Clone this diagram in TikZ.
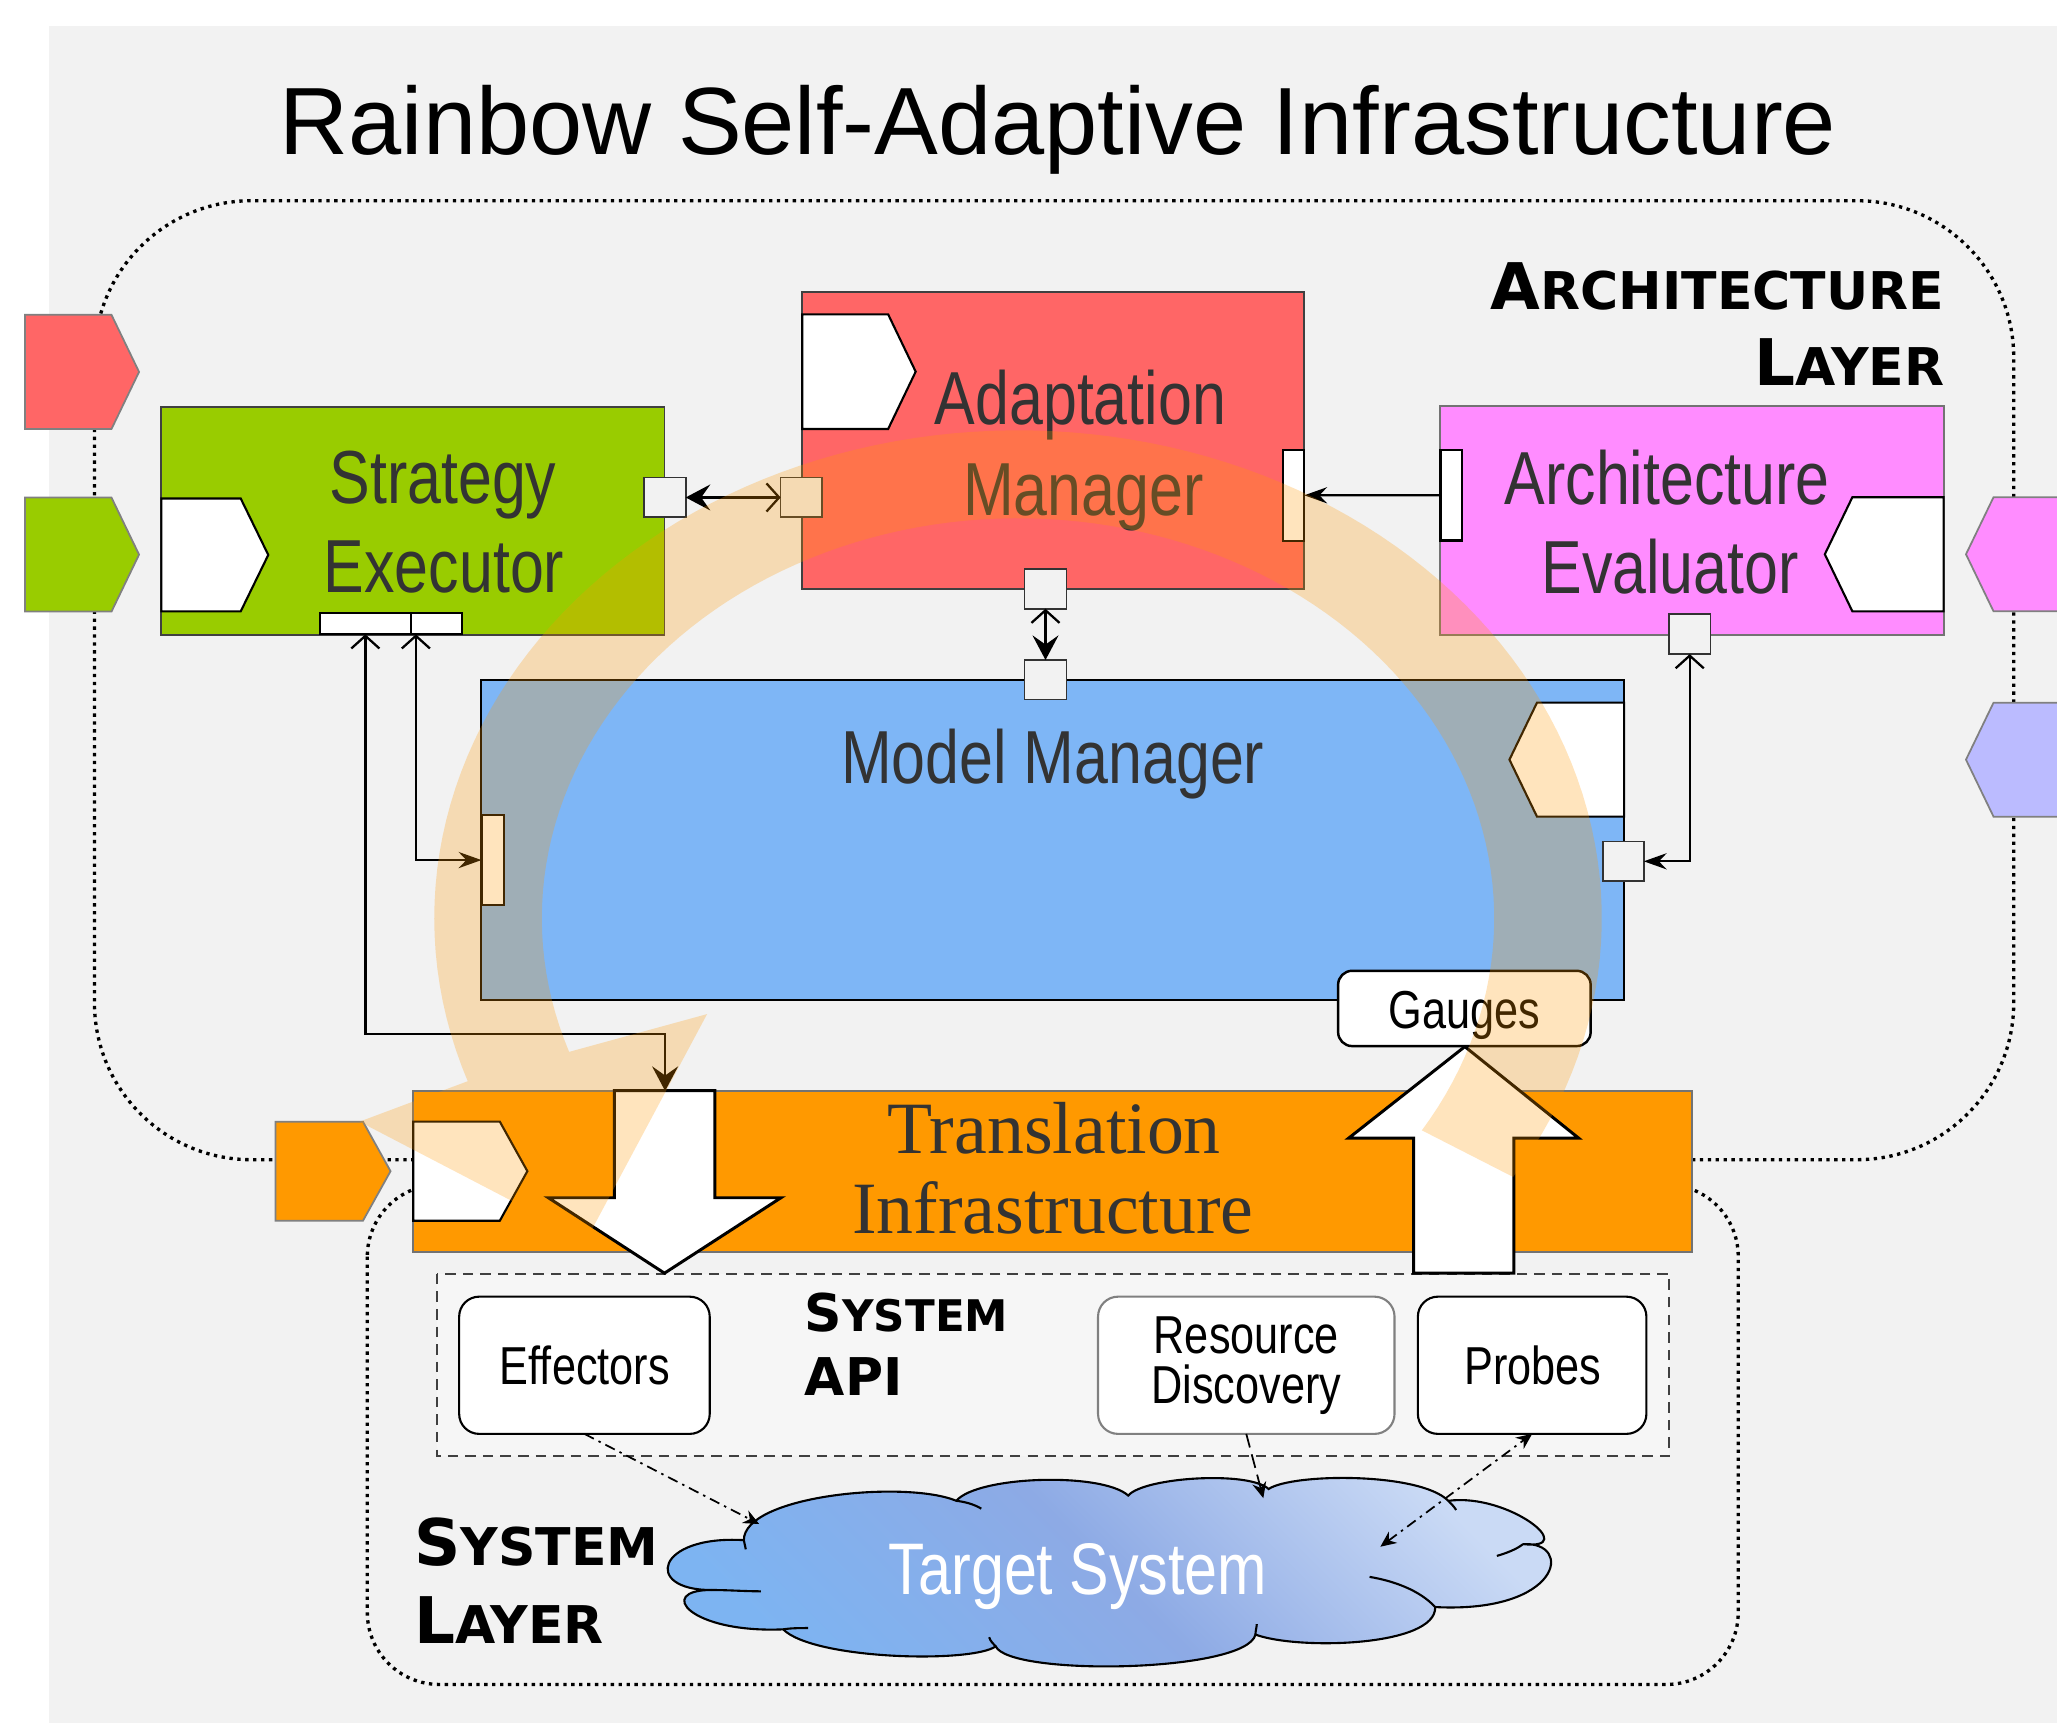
\documentclass[tikz,border=0pt]{standalone}
\usepackage{fontspec}
\setmainfont{Liberation Sans}
\newfontfamily\condsf[FakeStretch=0.81]{Liberation Sans}
\newfontfamily\heavysf{DejaVu Sans}
\newfontfamily\serifrm{Liberation Serif}
\usetikzlibrary{fit,calc,arrows.meta}

\definecolor{canvasgray}{HTML}{F2F2F2}
\definecolor{apifill}{HTML}{F6F6F6}
\definecolor{segreen}{HTML}{99CC00}
\definecolor{amred}{HTML}{FF6666}
\definecolor{aepink}{HTML}{FF8CFF}
\definecolor{mmblue}{HTML}{7EB6F6}
\definecolor{lavender}{HTML}{BBBBFF}
\definecolor{tiorange}{HTML}{FF9900}
\definecolor{labelgray}{HTML}{333333}
\definecolor{cloudlow}{HTML}{7DB4F2}
\definecolor{cloudmid}{HTML}{8DAAE5}
\definecolor{cloudhigh}{HTML}{CADAF5}

% interface ports drawn as pentagons (slant of 21 units)
\newcommand{\rbPentRight}[5][]{%
  \draw[#1] (#2,#3) -- ({#4-21},#3) -- (#4,{(#3+#5)/2}) -- ({#4-21},#5) -- (#2,#5) -- cycle;}
\newcommand{\rbPentLeft}[5][]{%
  \draw[#1] (#4,#3) -- ({#2+21},#3) -- (#2,{(#3+#5)/2}) -- ({#2+21},#5) -- (#4,#5) -- cycle;}

\begin{document}
\begin{tikzpicture}[x=0.013119cm, y=-0.013119cm,
  every node/.style={inner sep=0pt, outer sep=0pt},
  myV/.tip={Straight Barb[length=3.6pt,width=8pt]},
  mySt/.tip={Stealth[length=7pt,width=7.4pt,inset=2.6pt]},
  myLt/.tip={Stealth[length=6.5pt,width=4.6pt,inset=2.2pt]},
  mySm/.tip={Stealth[length=4.5pt,width=4pt,inset=1.5pt]},
  unitbox/.style={inner sep=0pt, draw=black!75, line width=0.55pt},
  sqport/.style={inner sep=0pt, draw=black!80, fill=canvasgray, line width=0.45pt},
  barport/.style={inner sep=0pt, draw=black, fill=white, line width=0.6pt},
  portshape/.style={draw=black, fill=white, line width=0.6pt},
  extport/.style={draw=black!50, line width=0.5pt},
  link/.style={draw=black, line width=0.65pt},
  boxtext/.style={anchor=base, text=labelgray, font=\condsf\fontsize{21.4}{24}\selectfont},
  apitext/.style={anchor=base, text=black, font=\condsf\fontsize{15.2}{17}\selectfont},
  apibox/.style={draw=black, fill=white, line width=0.6pt, rounded corners=0.2cm, inner sep=0pt},
  layerdots/.style={line width=0.95pt, dash pattern=on 0.95pt off 1.3pt},
  bigarrow/.style={draw=black, fill=white, line width=0.85pt, line join=miter},
  cloudlink/.style={draw=black, line width=0.5pt, dash pattern=on 3pt off 1.5pt on 0.7pt off 1.5pt},
  layerlbl/.style={font=\heavysf\bfseries}
]
\useasboundingbox (0,0) rectangle (1568,1313);
\fill[white] (0,0) rectangle (1568,1313);
\fill[canvasgray] (37,20) rectangle (1568,1313);

% title
\node[anchor=base, font=\fontsize{27.2}{30}\selectfont] (title) at (806.5,118)
  {Rainbow Self-Adaptive Infrastructure};

% layers
\draw[layerdots, rounded corners=1.57cm] (72,153) rectangle (1535,884);
\draw[layerdots, rounded corners=0.72cm] (280,903) rectangle (1325,1284);

\node[layerlbl, anchor=base east] (archA) at (1482,236)
  {{\fontsize{18.3}{20}\selectfont A}{\fontsize{14.8}{16}\selectfont RCHITECTURE}};
\node[layerlbl, anchor=base east] (archB) at (1482,294)
  {{\fontsize{18.3}{20}\selectfont L}{\fontsize{14.8}{16}\selectfont AYER}};
\node[layerlbl, anchor=base west] (sysA) at (315.8,1193.7)
  {{\fontsize{18.3}{20}\selectfont S}{\fontsize{14.8}{16}\selectfont YSTEM}};
\node[layerlbl, anchor=base west] (sysB) at (315.8,1252.6)
  {{\fontsize{18.3}{20}\selectfont L}{\fontsize{14.8}{16}\selectfont AYER}};

% system API container
\draw[dash pattern=on 3pt off 2pt, draw=black!75, fill=apifill, line width=0.5pt]
  (333,971) rectangle (1272.5,1110);
\node[layerlbl, anchor=base west] (apiA) at (613.6,1015)
  {{\fontsize{14.8}{16}\selectfont S}{\fontsize{12.4}{14}\selectfont YSTEM}};
\node[layerlbl, anchor=base west, font=\heavysf\bfseries\fontsize{14.8}{16}\selectfont] (apiB) at (613.6,1063.9) {API};

% components
\node[unitbox, fill=tiorange, draw=black!55, fit={(315,831.6) (1290,954)}] (ti) {};
\node[unitbox, fill=segreen, fit={(123,310) (506.5,484)}] (se) {};
\node[unitbox, fill=amred, fit={(611.5,222.3) (994.2,449)}] (am) {};
\node[unitbox, fill=aepink, draw=black!55, fit={(1098,309.5) (1481.5,484)}] (ae) {};
\node[unitbox, fill=mmblue, draw=black, fit={(367,518.3) (1238,762.2)}] (mm) {};

% ports on the components
\rbPentRight[portshape]{123}{380}{204.5}{466}
\rbPentRight[portshape]{611.5}{239.6}{698}{327}
\rbPentLeft[portshape]{1391}{379}{1481.5}{466}
\rbPentLeft[portshape]{1150.6}{535.6}{1238}{622.5}
\rbPentRight[portshape]{315}{855}{402}{930.5}

% external interfaces
\rbPentRight[extport, fill=amred]{19}{240}{106}{327}
\rbPentRight[extport, fill=segreen]{19}{379.3}{106}{466.2}
\rbPentRight[extport, fill=tiorange]{210}{855}{297.7}{930.5}
\rbPentLeft[extport, fill=aepink]{1498.6}{379}{1600}{466}
\rbPentLeft[extport, fill=lavender]{1498.6}{535.6}{1600}{622.5}

% component labels
\node[boxtext] (seTa) at (337.7,384) {Strategy};
\node[boxtext] (seTb) at (338.5,451.8) {Executor};
\node[boxtext] (amTa) at (823.6,323.2) {Adaptation};
\node[boxtext] (amTb) at (825.7,392.6) {Manager};
\node[boxtext] (aeTa) at (1270.8,384.2) {Architecture};
\node[boxtext] (aeTb) at (1273,452.3) {Evaluator};
\node[boxtext] (mmT) at (802.5,597) {Model Manager};
\node[anchor=base, text=labelgray, font=\serifrm\fontsize{21}{24}\selectfont] (tiTa) at (803.5,879.6) {Translation};
\node[anchor=base, text=labelgray, font=\serifrm\fontsize{21}{24}\selectfont] (tiTb) at (802.5,940.6) {Infrastructure};

% connection points
\node[sqport, fit={(490.9,364.1) (522.7,394.3)}] (se_r) {};
\node[sqport, fit={(595.1,364.1) (626.8,394.3)}] (am_l) {};
\node[sqport, fit={(781,433.7) (812.9,464)}] (am_b) {};
\node[sqport, fit={(781,503.1) (812.9,533.3)}] (mm_t) {};
\node[sqport, fit={(1272,468) (1304,498.6)}] (ae_b) {};
\node[sqport, fit={(1222,641.6) (1253,671.5)}] (mm_r) {};
\node[barport, fit={(977.9,343) (994.2,412.1)}] (am_r) {};
\node[barport, fit={(1098,343) (1114.5,412)}] (ae_l) {};
\node[barport, fit={(244,467) (313,483.5)}] (se_b1) {};
\node[barport, fit={(313,467) (352,483.5)}] (se_b2) {};
\node[barport, fit={(367,621.2) (384,690)}] (mm_l) {};

% connectors
\coordinate (ti_in) at (507,831.6);
\draw[link, {mySt}-{myV}] (se_r.east) -- (am_l.west);
\draw[link, {myV}-{mySt}] (am_b.south) -- (mm_t.north);
\draw[link, -{myLt}] (ae_l.west) -- (am_r.east);
\draw[link, {myV}-{myLt}] (ae_b.south) |- (mm_r.east);
\draw[link, {myV}-{mySt}] (se_b1.south) |- ($(ti_in)+(0,-43.4)$) -- (ti_in);
\draw[link, {myV}-{myLt}] ($(se_b2.south west)+(4,0)$) |- (mm_l.west);

% effect and probe flows
\draw[bigarrow] (468.4,831.4) -- (545,831.4) -- (545,913) -- (595.3,913)
  -- (506.5,970.5) -- (418,913) -- (468.4,913) -- cycle;
\draw[bigarrow] (1077.5,970.5) -- (1077.5,867.6) -- (1028,867.6) -- (1116.6,797.8)
  -- (1203.4,867.6) -- (1154,867.6) -- (1154,970.5) -- cycle;

\node[draw=black, fill=white, line width=0.7pt, rounded corners=0.14cm, inner sep=0pt,
  fit={(1020,740) (1212.5,797.4)}] (gauges) {};
\node[apitext] (gaugesT) at (1116.4,783.9) {Gauges};

% system API elements
\node[apibox, fit={(350,988.4) (541,1093)}] (eff) {};
\node[apibox, draw=black!50, fit={(837,988.4) (1063,1093)}] (res) {};
\node[apibox, fit={(1080.8,988.4) (1255,1093)}] (prb) {};
\node[apitext] (effT) at (445.8,1055.7) {Effectors};
\node[apitext] (resTa) at (950,1031.6) {Resource};
\node[apitext] (resTb) at (950,1070.2) {Discovery};
\node[apitext] (prbT) at (1168.5,1055.7) {Probes};

% target system cloud
\shade[draw=black, line width=0.6pt, top color=cloudhigh, bottom color=cloudlow,
  middle color=cloudmid, shading angle=-45]
  (567,1174) .. controls (567,1140) and (690,1128) .. (729,1144)
  .. controls (745,1125) and (840,1122) .. (860,1140)
  .. controls (872,1126) and (952,1121) .. (967,1135)
  .. controls (985,1123) and (1082,1122) .. (1104,1144)
  .. controls (1150,1138) and (1205,1182) .. (1161,1177)
  .. controls (1200,1175) and (1190,1230) .. (1094,1225)
  .. controls (1095,1255) and (990,1258) .. (957,1246)
  .. controls (950,1275) and (770,1278) .. (759,1255)
  .. controls (740,1268) and (620,1265) .. (597,1242)
  .. controls (525,1245) and (500,1212) .. (542,1212)
  .. controls (490,1212) and (500,1170) .. (567,1174) -- cycle;
\begin{scope}[line width=0.6pt]
  \draw (729,1144) .. controls (737,1145) and (743,1147) .. (748,1150);
  \draw (1104,1144) .. controls (1106,1146) and (1108,1148) .. (1110,1151);
  \draw (1161,1177) .. controls (1156,1181) and (1148,1184) .. (1141,1186);
  \draw (1094,1225) .. controls (1082,1212) and (1062,1205) .. (1044,1202);
  \draw (957,1246) .. controls (957,1243) and (958,1240) .. (958,1238);
  \draw (759,1255) .. controls (757,1253) and (755,1251) .. (754,1248);
  \draw (597,1242) .. controls (603,1241) and (610,1241) .. (616,1241);
  \draw (542,1212) .. controls (555,1212) and (568,1213) .. (580,1213);
  \draw (567,1174) -- (568.5,1181);
\end{scope}
\node[anchor=base, text=white, font=\condsf\fontsize{20.8}{24}\selectfont] (target) at (821.7,1215.8) {Target System};

\coordinate (cl_eff) at (578.7,1161.7);
\coordinate (cl_res) at (963,1142);
\coordinate (cl_prb) at (1052.2,1179);
\draw[cloudlink, -{mySm}] (eff.south) -- (cl_eff);
\draw[draw=black, line width=0.5pt, dash pattern=on 4pt off 2pt, -{mySm}] (res.south) -- (cl_res);
\draw[cloudlink, {mySm}-{mySm}] (cl_prb) -- (prb.south);

% adaptation loop overlay
\fill[tiorange, opacity=0.26]
  plot[domain=32:-199.5, samples=120] ({776+445*cos(\x)},{700+372*sin(\x)})
  -- (274,855) -- (447,945) -- (539,773)
  -- plot[domain=-199.5:32, samples=120] ({776+363*cos(\x)},{700+305*sin(\x)})
  -- cycle;
\end{tikzpicture}
\end{document}
